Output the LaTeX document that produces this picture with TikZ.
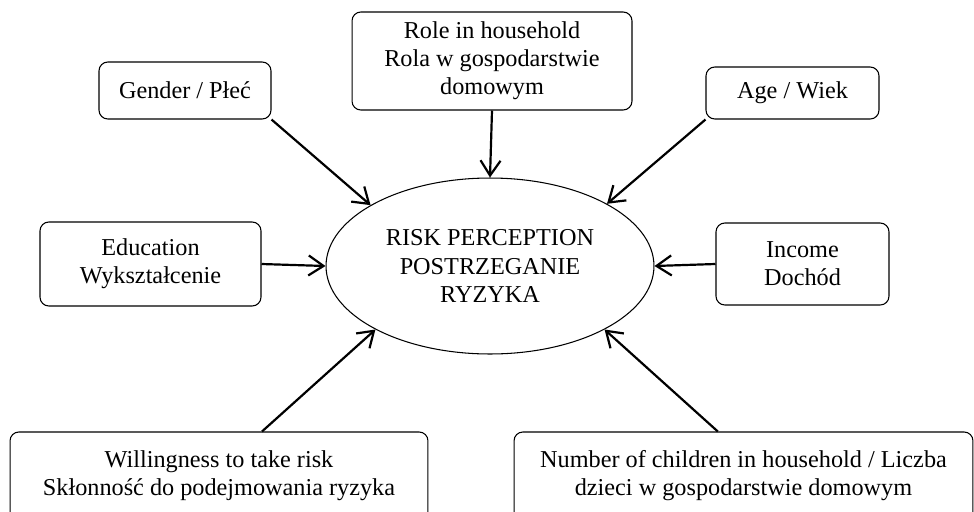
\documentclass[tikz,border=0pt]{standalone}
\usepackage{fontspec}
\setmainfont{Liberation Serif}
\usetikzlibrary{shapes.geometric,arrows.meta}

\tikzset{
  factor/.style={draw,rounded corners=5pt,line width=0.6pt,align=center,
    inner sep=2pt,font=\fontsize{13.8}{16}\selectfont},
  centre/.style={draw,ellipse,line width=0.6pt,align=center,inner sep=0pt,
    font=\fontsize{13.8}{16}\selectfont},
  link/.style={line width=1.25pt,-{Straight Barb[length=0.3cm,width=0.4cm]}}
}

\begin{document}
\begin{tikzpicture}[x=0.02cm,y=-0.02cm]
  \useasboundingbox (0,0) rectangle (974,511);

  \node[centre,minimum width=6.56cm,minimum height=3.52cm] (risk) at (490,266)
    {RISK PERCEPTION\\POSTRZEGANIE\\RYZYKA};

  \node[factor,minimum width=3.44cm,minimum height=1.14cm] (gender) at (185,90.5)
    {Gender / Płeć};
  \node[factor,minimum width=5.6cm,minimum height=1.96cm] (role) at (492,61)
    {Role in household\\Rola w gospodarstwie\\domowym};
  \node[factor,minimum width=3.46cm,minimum height=1.04cm] (age) at (792.5,93)
    {Age / Wiek};
  \node[factor,minimum width=4.42cm,minimum height=1.68cm] (edu) at (150.5,264)
    {Education\\Wykształcenie};
  \node[factor,minimum width=3.46cm,minimum height=1.64cm] (income) at (802.5,264)
    {Income\\Dochód};
  \node[factor,minimum width=8.36cm,minimum height=1.76cm] (will) at (219,476)
    {Willingness to take risk\\Skłonność do podejmowania ryzyka};
  \node[factor,minimum width=9.18cm,minimum height=1.76cm] (children) at (743.5,476)
    {Number of children in household / Liczba\\dzieci w gospodarstwie domowym};

  \begin{scope}[link]
  \draw (gender.south east) -- (risk.153);
  \draw (role.south) -- (risk.north);
  \draw (age.south west) -- (risk.28);
  \draw (edu.east) -- (risk.west);
  \draw (income.west) -- (risk.east);
  \draw (will.46.4) -- (risk.209);
  \draw (children.120.3) -- (risk.331.2);
  \end{scope}
\end{tikzpicture}
\end{document}
